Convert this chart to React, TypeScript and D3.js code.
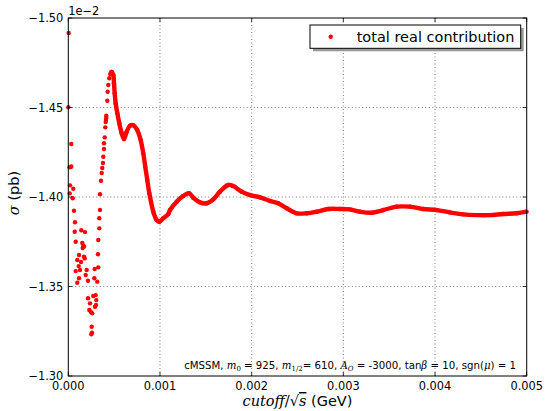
import React from "react";
import * as d3 from "d3";

const W = 547;
const H = 411;

const xTicks = [0, 0.001, 0.002, 0.003, 0.004, 0.005];
const xTickLabels = ["0.000", "0.001", "0.002", "0.003", "0.004", "0.005"];
const yTicks = [-1.5, -1.45, -1.4, -1.35, -1.3];
const yTickLabels = ["\u22121.50", "\u22121.45", "\u22121.40", "\u22121.35", "\u22121.30"];

// sparse points (x in GeV, y in units of 1e-2 pb)
const scatterX = [
  0.0000044, 0.0, 0.0000327, 0.000013, 0.000024, 0.0000327, 0.0000185, 0.0000545, 0.0000153, 0.000048,
  0.0000622, 0.000073, 0.0000698, 0.0000807, 0.0001418, 0.000182, 0.0001527, 0.0001636, 0.000157, 0.0001712,
  0.0001167, 0.0000981, 0.0001134, 0.0000807, 0.0001276, 0.0000981, 0.0001167, 0.0001788, 0.0002007, 0.0001898,
  0.0002148, 0.0001712, 0.0001385,
  0.0003457, 0.0003457, 0.000338, 0.000338, 0.0003272, 0.0003239, 0.0003272, 0.0002879, 0.0002835, 0.0003162,
  0.0002148, 0.0002726, 0.0002988, 0.0003053, 0.0002912, 0.0002366, 0.000229, 0.0002617, 0.0002443, 0.0003021,
  0.0002552, 0.0002585, 0.0002508,
  0.0003566, 0.0003642, 0.0003708, 0.0003784, 0.0003817, 0.0003893, 0.0003893, 0.0003969, 0.0004035, 0.0004111,
  0.0004144, 0.0004253, 0.0004297, 0.0004362, 0.0004471, 0.000458, 0.0004144, 0.0004079,
];
const scatterY = [
  -1.4916, -1.4501, -1.4296, -1.4166, -1.4168, -1.417, -1.4065, -1.4046, -1.402, -1.3993,
  -1.3923, -1.3859, -1.3806, -1.375, -1.3814, -1.3804, -1.3743, -1.3729, -1.3715, -1.3723,
  -1.3676, -1.3648, -1.3614, -1.3586, -1.3592, -1.3521, -1.3546, -1.3657, -1.3592, -1.3564,
  -1.3532, -1.3667, -1.3637,
  -1.4015, -1.3927, -1.3881, -1.3825, -1.376, -1.368, -1.3607, -1.3598, -1.3546, -1.3527,
  -1.3434, -1.3447, -1.3452, -1.3424, -1.3387, -1.3406, -1.3369, -1.335, -1.3359, -1.3397,
  -1.3275, -1.3242, -1.3233,
  -1.4091, -1.4134, -1.4162, -1.419, -1.4225, -1.4268, -1.43, -1.4333, -1.4389, -1.443,
  -1.4454, -1.4538, -1.4588, -1.4626, -1.4663, -1.4687, -1.4441, -1.4419,
];

// dense part of the series (from the peak onward)
const curveX = [
  0.0004689, 0.0004733, 0.0004907, 0.0004984, 0.000506, 0.0005169, 0.0005344, 0.0005562, 0.0005823, 0.0006074,
  0.0006369, 0.0006728, 0.0007088, 0.0007524, 0.0007895, 0.0008179, 0.0008397, 0.0008615, 0.0008833, 0.0009019,
  0.0009269, 0.000964, 0.0009924, 0.001036, 0.0010905, 0.001109, 0.0011821, 0.0012541, 0.0013163, 0.0013631,
  0.001437, 0.0015093, 0.0015812, 0.0016543, 0.0017448, 0.0017993, 0.0018909, 0.0019815, 0.0020905, 0.0021996,
  0.0022901, 0.0023817, 0.0024907, 0.0025998, 0.0027088, 0.0028353, 0.0029629, 0.003072, 0.003181, 0.0033086,
  0.0034351, 0.0035812, 0.0037263, 0.0038713, 0.0040174, 0.0041625, 0.0043075, 0.0044536, 0.0045987, 0.0047437,
  0.0048899, 0.0049989,
];
const curveY = [
  -1.4698, -1.4698, -1.4682, -1.4635, -1.4579, -1.4523, -1.4468, -1.4412, -1.4356, -1.4324,
  -1.4365, -1.4398, -1.4401, -1.4374, -1.4318, -1.4244, -1.4169, -1.4095, -1.4021, -1.3974,
  -1.3918, -1.3871, -1.3862, -1.3881, -1.3905, -1.3927, -1.3974, -1.4006, -1.4021, -1.3996,
  -1.397, -1.3965, -1.3987, -1.403, -1.4067, -1.4061, -1.403, -1.4011, -1.3998, -1.3978,
  -1.3965, -1.3937, -1.3909, -1.3909, -1.3918, -1.3933, -1.3933, -1.3931, -1.3918, -1.3912,
  -1.3927, -1.3946, -1.3946, -1.3933, -1.3927, -1.3914, -1.3903, -1.3899, -1.3899, -1.3905,
  -1.3909, -1.3918,
];

const seriesName = "total real contribution";
const RED = "#ff0000";

export default function App() {
  const left = 68.3, right = 526.7, top = 18, bottom = 376;
  const x = d3.scaleLinear().domain([0, 0.005]).range([left, right]);
  const y = d3.scaleLinear().domain([-1.5, -1.3]).range([top, bottom]);
  const curvePts: [number, number][] = curveX.map((v, i) => [v, curveY[i]]);
  const line = d3
    .line<[number, number]>()
    .x((d) => x(d[0]))
    .y((d) => y(d[1]))
    .curve(d3.curveCatmullRom.alpha(0.5));
  const tickFont = "'DejaVu Sans', sans-serif";
  const mathFont = "'DejaVu Serif', serif";
  const r = 2.2;

  return (
    <svg
      width={W}
      height={H}
      style={{ position: "absolute", left: 0, top: 0, background: "#fff" }}
      fontFamily={tickFont}
    >
      <rect x={0} y={0} width={W} height={H} fill="#fff" />
      {/* grid */}
      <g stroke="#555" strokeWidth={0.8} strokeDasharray="1,2.5">
        {xTicks.slice(1, -1).map((t) => (
          <line key={"gx" + t} x1={x(t)} x2={x(t)} y1={top} y2={bottom} />
        ))}
        {yTicks.slice(1, -1).map((t) => (
          <line key={"gy" + t} x1={left} x2={right} y1={y(t)} y2={y(t)} />
        ))}
      </g>
      <defs>
        <clipPath id="clip">
          <rect x={left - 3} y={top - 3} width={right - left + 6} height={bottom - top + 6} />
        </clipPath>
      </defs>
      {/* data */}
      <g clipPath="url(#clip)">
        <path d={line(curvePts) || ""} fill="none" stroke={RED} strokeWidth={r * 2} strokeLinejoin="round" />
        {curvePts.map((d, i) => (
          <circle key={"c" + i} cx={x(d[0])} cy={y(d[1])} r={r} fill={RED} />
        ))}
        {scatterX.map((v, i) => (
          <circle key={"s" + i} cx={x(v)} cy={y(scatterY[i])} r={r} fill={RED} />
        ))}
      </g>
      {/* ticks */}
      <g stroke="#000" strokeWidth={0.8}>
        {xTicks.map((t) => (
          <g key={"tx" + t}>
            <line x1={x(t)} x2={x(t)} y1={bottom} y2={bottom - 4} />
            <line x1={x(t)} x2={x(t)} y1={top} y2={top + 4} />
          </g>
        ))}
        {yTicks.map((t) => (
          <g key={"ty" + t}>
            <line x1={left} x2={left + 4} y1={y(t)} y2={y(t)} />
            <line x1={right} x2={right - 4} y1={y(t)} y2={y(t)} />
          </g>
        ))}
      </g>
      <rect x={left} y={top} width={right - left} height={bottom - top} fill="none" stroke="#000" strokeWidth={1} />
      {/* tick labels */}
      <g fontSize={11.4} fill="#000">
        {xTicks.map((t, i) => (
          <text key={"lx" + t} x={x(t)} y={bottom + 14} textAnchor="middle">
            {xTickLabels[i]}
          </text>
        ))}
        {yTicks.map((t, i) => (
          <text key={"ly" + t} x={left - 5} y={y(t) + 4} textAnchor="end">
            {yTickLabels[i]}
          </text>
        ))}
        <text x={left} y={15}>1e{"\u2212"}2</text>
      </g>
      {/* axis labels */}
      <text x={(left + right) / 2} y={406} textAnchor="middle" fontSize={14.5}>
        <tspan fontFamily={mathFont} fontStyle="italic">cutoff</tspan>
        <tspan fontFamily={mathFont}>/√</tspan>
        <tspan fontFamily={mathFont} fontStyle="italic" textDecoration="overline">s</tspan>
        <tspan> (GeV)</tspan>
      </text>
      <text
        transform={`translate(19,${(top + bottom) / 2 - 4}) rotate(-90)`}
        textAnchor="middle"
        fontSize={14.5}
      >
        <tspan fontFamily={mathFont} fontStyle="italic">σ</tspan>
        <tspan> (pb)</tspan>
      </text>
      {/* annotation */}
      <text x={516} y={368.5} textAnchor="end" fontSize={10.2}>
        <tspan>cMSSM, </tspan>
        <tspan fontFamily={mathFont} fontStyle="italic">m</tspan>
        <tspan fontFamily={mathFont} fontSize={7} dy={2}>0</tspan>
        <tspan dy={-2}> = 925, </tspan>
        <tspan fontFamily={mathFont} fontStyle="italic">m</tspan>
        <tspan fontFamily={mathFont} fontSize={7} dy={2}>1/2</tspan>
        <tspan dy={-2}>= 610, </tspan>
        <tspan fontFamily={mathFont} fontStyle="italic">A</tspan>
        <tspan fontFamily={mathFont} fontStyle="italic" fontSize={7} dy={2}>O</tspan>
        <tspan dy={-2}> = -3000, tan</tspan>
        <tspan fontFamily={mathFont} fontStyle="italic">β</tspan>
        <tspan> = 10, sgn(</tspan>
        <tspan fontFamily={mathFont} fontStyle="italic">μ</tspan>
        <tspan>) = 1</tspan>
      </text>
      {/* legend */}
      <rect x={313} y={28} width={210.7} height={23.3} fill="#999" />
      <rect x={310} y={25} width={210.7} height={23.3} fill="#fff" stroke="#000" strokeWidth={1} />
      <circle cx={330.7} cy={36.7} r={r} fill={RED} />
      <text x={356.7} y={42} fontSize={14.5}>
        {seriesName}
      </text>
    </svg>
  );
}
